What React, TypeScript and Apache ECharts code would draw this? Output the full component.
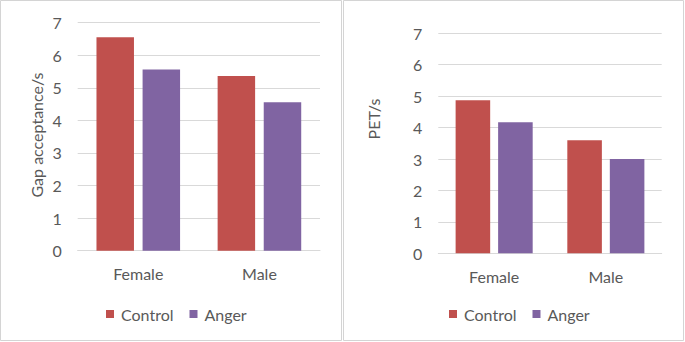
import React, { useEffect, useRef } from "react";
import * as echarts from "echarts";

const categories = ["Female", "Male"];
const gapControl = [6.55, 5.36];
const gapAnger = [5.56, 4.56];
const petControl = [4.87, 3.6];
const petAnger = [4.17, 3.0];
const yTicks = [0, 1, 2, 3, 4, 5, 6, 7];

const FONT = "Lato";
const FS = 16;
const TXT = "#595959";
const GRID = "#d9d9d9";
const RED = "#c0504d";
const PURPLE = "#8064a2";

export default function App() {
  const ref = useRef<HTMLDivElement>(null);
  useEffect(() => {
    const chart = echarts.init(ref.current!, null, { renderer: "svg" });
    const xAxisCommon = {
      type: "category",
      data: categories,
      axisTick: { show: false },
      axisLine: { show: true, lineStyle: { color: GRID, width: 1 } },
      axisLabel: { color: TXT, fontFamily: FONT, fontSize: FS, margin: 15 },
    };
    const yAxisCommon = {
      type: "value",
      min: yTicks[0],
      max: yTicks[yTicks.length - 1],
      interval: 1,
      axisLine: { show: false },
      axisTick: { show: false },
      splitLine: { lineStyle: { color: GRID, width: 1 } },
      axisLabel: { color: TXT, fontFamily: FONT, fontSize: FS, margin: 16 },
    };
    const barCommon = {
      type: "bar",
      barGap: "23%",
      barCategoryGap: "31%",
    };
    const legendCommon = {
      data: ["Control", "Anger"],
      top: 301,
      icon: "rect",
      itemWidth: 8,
      itemHeight: 8,
      itemGap: 16,
      textStyle: { color: TXT, fontFamily: FONT, fontSize: FS, padding: [0, 0, 0, 2] },
    };
    chart.setOption({
      animation: false,
      backgroundColor: "#ffffff",
      grid: [
        { left: 77.7, top: 22.7, width: 242.3, height: 228 },
        { left: 438.3, top: 33.3, width: 223.4, height: 220 },
      ],
      xAxis: [
        { ...xAxisCommon, gridIndex: 0 },
        { ...xAxisCommon, gridIndex: 1 },
      ],
      yAxis: [
        { ...yAxisCommon, gridIndex: 0 },
        { ...yAxisCommon, gridIndex: 1 },
      ],
      legend: [
        { ...legendCommon, left: 101 },
        { ...legendCommon, left: 444 },
      ],
      series: [
        { ...barCommon, name: "Control", xAxisIndex: 0, yAxisIndex: 0, data: gapControl, itemStyle: { color: RED } },
        { ...barCommon, name: "Anger", xAxisIndex: 0, yAxisIndex: 0, data: gapAnger, itemStyle: { color: PURPLE } },
        { ...barCommon, name: "Control", xAxisIndex: 1, yAxisIndex: 1, data: petControl, itemStyle: { color: RED } },
        { ...barCommon, name: "Anger", xAxisIndex: 1, yAxisIndex: 1, data: petAnger, itemStyle: { color: PURPLE } },
      ],
      graphic: [
        {
          type: "rect",
          shape: { x: 0.5, y: 0.5, width: 341, height: 340 },
          style: { fill: "none", stroke: "#d4d4d4", lineWidth: 1 },
          silent: true,
        },
        {
          type: "rect",
          shape: { x: 343.5, y: 0.5, width: 340, height: 340 },
          style: { fill: "none", stroke: "#d4d4d4", lineWidth: 1 },
          silent: true,
        },
        {
          type: "text",
          x: 36.7,
          y: 135,
          rotation: Math.PI / 2,
          style: {
            text: "Gap acceptance/s",
            fill: TXT,
            font: `${FS}px ${FONT}`,
            align: "center",
            verticalAlign: "middle",
            textAlign: "center",
            textVerticalAlign: "middle",
          },
        },
        {
          type: "text",
          x: 373.3,
          y: 119,
          rotation: Math.PI / 2,
          style: {
            text: "PET/s",
            fill: TXT,
            font: `${FS}px ${FONT}`,
            align: "center",
            verticalAlign: "middle",
            textAlign: "center",
            textVerticalAlign: "middle",
          },
        },
      ],
    });
    return () => chart.dispose();
  }, []);
  return (
    <div
      ref={ref}
      style={{ position: "fixed", left: 0, top: 0, width: 685, height: 342, background: "#fff" }}
    />
  );
}
